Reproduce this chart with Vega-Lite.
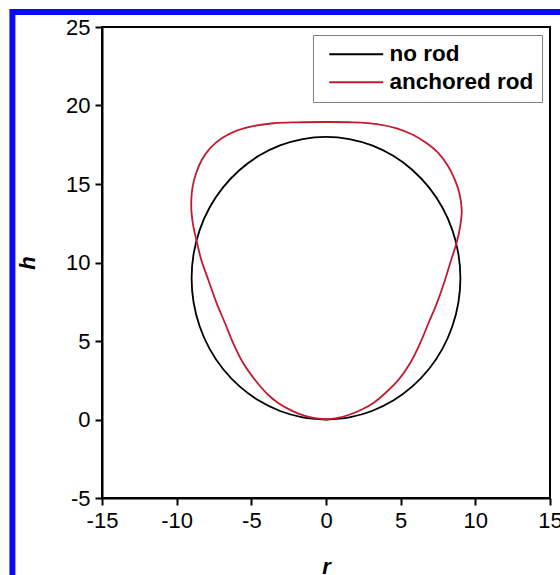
{
  "$schema": "https://vega.github.io/schema/vega-lite/v6.json",
  "width": 448,
  "height": 471,
  "autosize": {"type": "none"},
  "padding": {"left": 102, "top": 27, "right": 10, "bottom": 77},
  "background": "white",
  "config": {"view": {"stroke": "black", "strokeWidth": 2}, "font": "Liberation Sans"},
  "layer": [
    {
      "data": {"values": [
        {"series": "no rod", "i": 0, "r": 0, "h": 0},
        {"series": "no rod", "i": 1, "r": 1.563, "h": 0.137},
        {"series": "no rod", "i": 2, "r": 3.078, "h": 0.543},
        {"series": "no rod", "i": 3, "r": 4.5, "h": 1.206},
        {"series": "no rod", "i": 4, "r": 5.785, "h": 2.106},
        {"series": "no rod", "i": 5, "r": 6.894, "h": 3.215},
        {"series": "no rod", "i": 6, "r": 7.794, "h": 4.5},
        {"series": "no rod", "i": 7, "r": 8.457, "h": 5.922},
        {"series": "no rod", "i": 8, "r": 8.863, "h": 7.437},
        {"series": "no rod", "i": 9, "r": 9, "h": 9},
        {"series": "no rod", "i": 10, "r": 8.863, "h": 10.563},
        {"series": "no rod", "i": 11, "r": 8.457, "h": 12.078},
        {"series": "no rod", "i": 12, "r": 7.794, "h": 13.5},
        {"series": "no rod", "i": 13, "r": 6.894, "h": 14.785},
        {"series": "no rod", "i": 14, "r": 5.785, "h": 15.894},
        {"series": "no rod", "i": 15, "r": 4.5, "h": 16.794},
        {"series": "no rod", "i": 16, "r": 3.078, "h": 17.457},
        {"series": "no rod", "i": 17, "r": 1.563, "h": 17.863},
        {"series": "no rod", "i": 18, "r": 0, "h": 18},
        {"series": "no rod", "i": 19, "r": -1.563, "h": 17.863},
        {"series": "no rod", "i": 20, "r": -3.078, "h": 17.457},
        {"series": "no rod", "i": 21, "r": -4.5, "h": 16.794},
        {"series": "no rod", "i": 22, "r": -5.785, "h": 15.894},
        {"series": "no rod", "i": 23, "r": -6.894, "h": 14.785},
        {"series": "no rod", "i": 24, "r": -7.794, "h": 13.5},
        {"series": "no rod", "i": 25, "r": -8.457, "h": 12.078},
        {"series": "no rod", "i": 26, "r": -8.863, "h": 10.563},
        {"series": "no rod", "i": 27, "r": -9, "h": 9},
        {"series": "no rod", "i": 28, "r": -8.863, "h": 7.437},
        {"series": "no rod", "i": 29, "r": -8.457, "h": 5.922},
        {"series": "no rod", "i": 30, "r": -7.794, "h": 4.5},
        {"series": "no rod", "i": 31, "r": -6.894, "h": 3.215},
        {"series": "no rod", "i": 32, "r": -5.785, "h": 2.106},
        {"series": "no rod", "i": 33, "r": -4.5, "h": 1.206},
        {"series": "no rod", "i": 34, "r": -3.078, "h": 0.543},
        {"series": "no rod", "i": 35, "r": -1.563, "h": 0.137},
        {"series": "no rod", "i": 36, "r": 0, "h": 0},
        {"series": "anchored rod", "i": 0, "r": 0, "h": 0},
        {"series": "anchored rod", "i": 1, "r": 0.8, "h": 0.1},
        {"series": "anchored rod", "i": 2, "r": 1.6, "h": 0.32},
        {"series": "anchored rod", "i": 3, "r": 2.4, "h": 0.64},
        {"series": "anchored rod", "i": 4, "r": 3.2, "h": 1.07},
        {"series": "anchored rod", "i": 5, "r": 3.96, "h": 1.67},
        {"series": "anchored rod", "i": 6, "r": 4.85, "h": 2.52},
        {"series": "anchored rod", "i": 7, "r": 5.63, "h": 3.58},
        {"series": "anchored rod", "i": 8, "r": 6.3, "h": 4.85},
        {"series": "anchored rod", "i": 9, "r": 6.86, "h": 6.13},
        {"series": "anchored rod", "i": 10, "r": 7.42, "h": 7.4},
        {"series": "anchored rod", "i": 11, "r": 7.97, "h": 8.89},
        {"series": "anchored rod", "i": 12, "r": 8.38, "h": 10.16},
        {"series": "anchored rod", "i": 13, "r": 8.76, "h": 11.3},
        {"series": "anchored rod", "i": 14, "r": 9.0, "h": 12.4},
        {"series": "anchored rod", "i": 15, "r": 9.09, "h": 13.34},
        {"series": "anchored rod", "i": 16, "r": 8.93, "h": 14.41},
        {"series": "anchored rod", "i": 17, "r": 8.64, "h": 15.25},
        {"series": "anchored rod", "i": 18, "r": 8.2, "h": 16.1},
        {"series": "anchored rod", "i": 19, "r": 7.53, "h": 16.96},
        {"series": "anchored rod", "i": 20, "r": 6.75, "h": 17.59},
        {"series": "anchored rod", "i": 21, "r": 5.85, "h": 18.12},
        {"series": "anchored rod", "i": 22, "r": 4.74, "h": 18.55},
        {"series": "anchored rod", "i": 23, "r": 3.4, "h": 18.82},
        {"series": "anchored rod", "i": 24, "r": 1.83, "h": 18.93},
        {"series": "anchored rod", "i": 25, "r": 0, "h": 18.95},
        {"series": "anchored rod", "i": 26, "r": -1.96, "h": 18.93},
        {"series": "anchored rod", "i": 27, "r": -3.52, "h": 18.87},
        {"series": "anchored rod", "i": 28, "r": -4.87, "h": 18.69},
        {"series": "anchored rod", "i": 29, "r": -5.98, "h": 18.4},
        {"series": "anchored rod", "i": 30, "r": -6.98, "h": 17.91},
        {"series": "anchored rod", "i": 31, "r": -7.77, "h": 17.27},
        {"series": "anchored rod", "i": 32, "r": -8.32, "h": 16.53},
        {"series": "anchored rod", "i": 33, "r": -8.7, "h": 15.68},
        {"series": "anchored rod", "i": 34, "r": -8.93, "h": 14.83},
        {"series": "anchored rod", "i": 35, "r": -9.02, "h": 13.98},
        {"series": "anchored rod", "i": 36, "r": -9.0, "h": 13.13},
        {"series": "anchored rod", "i": 37, "r": -8.88, "h": 12.28},
        {"series": "anchored rod", "i": 38, "r": -8.68, "h": 11.43},
        {"series": "anchored rod", "i": 39, "r": -8.35, "h": 10.16},
        {"series": "anchored rod", "i": 40, "r": -7.88, "h": 8.89},
        {"series": "anchored rod", "i": 41, "r": -7.32, "h": 7.4},
        {"series": "anchored rod", "i": 42, "r": -6.76, "h": 6.13},
        {"series": "anchored rod", "i": 43, "r": -6.21, "h": 4.85},
        {"series": "anchored rod", "i": 44, "r": -5.54, "h": 3.58},
        {"series": "anchored rod", "i": 45, "r": -4.75, "h": 2.52},
        {"series": "anchored rod", "i": 46, "r": -3.86, "h": 1.56},
        {"series": "anchored rod", "i": 47, "r": -3.2, "h": 1.05},
        {"series": "anchored rod", "i": 48, "r": -2.5, "h": 0.66},
        {"series": "anchored rod", "i": 49, "r": -1.8, "h": 0.36},
        {"series": "anchored rod", "i": 50, "r": -1.0, "h": 0.13},
        {"series": "anchored rod", "i": 51, "r": 0, "h": 0}
      ]},
      "mark": {"type": "line", "interpolate": "catmull-rom", "strokeWidth": 1.8},
      "encoding": {
        "x": {
          "field": "r", "type": "quantitative", "title": "r",
          "scale": {"domain": [-15, 15], "nice": false, "zero": false},
          "axis": {
            "values": [-15, -12.5, -10, -7.5, -5, -2.5, 0, 2.5, 5, 7.5, 10, 12.5, 15],
            "labelExpr": "datum.value % 5 === 0 ? toString(datum.value) : ''",
            "tickSize": {"condition": {"test": "datum.value % 5 !== 0", "value": 4}, "value": 7},
            "tickWidth": 2, "tickColor": "black", "domainColor": "black", "domainWidth": 2,
            "grid": false, "labelFontSize": 22, "labelColor": "black", "labelPadding": 5,
            "labelFlush": false, "labelOverlap": false,
            "titleFontSize": 22, "titleFontWeight": "bold", "titleFontStyle": "italic", "titleColor": "black", "titlePadding": 25
          }
        },
        "y": {
          "field": "h", "type": "quantitative", "title": "h",
          "scale": {"domain": [-5, 25], "nice": false, "zero": false},
          "axis": {
            "values": [-5, -2.5, 0, 2.5, 5, 7.5, 10, 12.5, 15, 17.5, 20, 22.5, 25],
            "labelExpr": "datum.value % 5 === 0 ? toString(datum.value) : ''",
            "tickSize": {"condition": {"test": "datum.value % 5 !== 0", "value": 4}, "value": 7},
            "tickWidth": 2, "tickColor": "black", "domainColor": "black", "domainWidth": 2,
            "grid": false, "labelFontSize": 22, "labelColor": "black", "labelPadding": 5,
            "labelFlush": false, "labelOverlap": false,
            "titleFontSize": 22, "titleFontWeight": "bold", "titleFontStyle": "italic", "titleColor": "black", "titlePadding": 26
          }
        },
        "order": {"field": "i", "type": "quantitative"},
        "color": {
          "field": "series", "type": "nominal",
          "scale": {"domain": ["no rod", "anchored rod"], "range": ["#000000", "#c41a30"]},
          "legend": {
            "orient": "top-right", "offset": 8, "title": null,
            "symbolType": "M-0.3,0H5.1", "symbolSize": 400, "symbolStrokeWidth": 2,
            "labelFontSize": 22.5, "labelFontWeight": "bold", "labelColor": "black", "labelOffset": 46,
            "fillColor": "white", "strokeColor": "#808080", "padding": 8, "rowPadding": 5
          }
        }
      }
    },
    {
      "data": {"values": [{"frame": "border"}]},
      "mark": {"type": "rect", "fill": "white", "fillOpacity": 0, "stroke": "#0a0af5", "strokeWidth": 6},
      "encoding": {
        "x": {"datum": -21, "type": "quantitative"},
        "x2": {"datum": 16.5},
        "y": {"datum": 25.96, "type": "quantitative"},
        "y2": {"datum": -11}
      }
    }
  ]
}
